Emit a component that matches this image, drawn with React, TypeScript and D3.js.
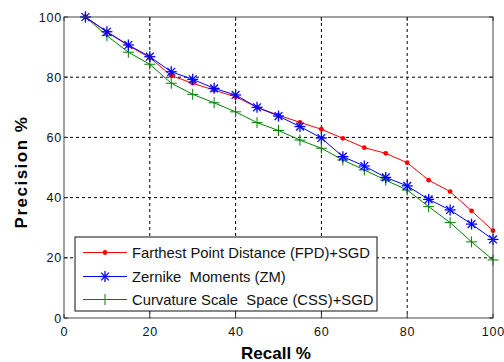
import React, { useEffect, useRef } from 'react';
import * as d3 from 'd3';

const recall = [5, 10, 15, 20, 25, 30, 35, 40, 45, 50, 55, 60, 65, 70, 75, 80, 85, 90, 95, 100];
const fpd = [100, 95, 90.5, 86.5, 80.5, 78, 75.7, 73.5, 70, 67.4, 65, 62.7, 59.7, 56.6, 54.7, 51.6, 45.8, 42, 35.6, 29];
const zm = [100, 95.1, 90.7, 86.8, 81.8, 79.3, 76.3, 74.1, 70, 67.1, 63.6, 59.8, 53.6, 50.5, 46.7, 43.9, 39.4, 35.9, 31.2, 26.1];
const css = [100, 93.8, 88.3, 84.3, 78, 74.3, 71.5, 68.5, 64.9, 62.3, 59.1, 56.4, 52.5, 49.2, 45.8, 42.5, 37, 31.7, 25.3, 19.3];
const ticks = [0, 20, 40, 60, 80, 100];
const seriesNames = [
  'Farthest Point Distance (FPD)+SGD',
  'Zernike  Moments (ZM)',
  'Curvature Scale  Space (CSS)+SGD',
];

const font = '"Liberation Sans", Arial, Helvetica, sans-serif';

// draw a MATLAB-like marker at (cx, cy)
function drawMarker(g: any, kind: string, cx: number, cy: number, color: string) {
  if (kind === 'dot') {
    g.append('circle').attr('cx', cx).attr('cy', cy).attr('r', 2.4).attr('fill', color);
  } else if (kind === 'star') {
    const s = 5.5, d = 3.9;
    const segs = [[-s, 0, s, 0], [0, -s, 0, s], [-d, -d, d, d], [-d, d, d, -d]];
    segs.forEach(p => g.append('line')
      .attr('x1', cx + p[0]).attr('y1', cy + p[1]).attr('x2', cx + p[2]).attr('y2', cy + p[3])
      .attr('stroke', color).attr('stroke-width', 1.3));
  } else {
    const s = 5.5;
    g.append('line').attr('x1', cx - s).attr('y1', cy).attr('x2', cx + s).attr('y2', cy)
      .attr('stroke', color).attr('stroke-width', 1);
    g.append('line').attr('x1', cx).attr('y1', cy - s).attr('x2', cx).attr('y2', cy + s)
      .attr('stroke', color).attr('stroke-width', 1);
  }
}

const App: React.FC = () => {
  const svgRef = useRef<SVGSVGElement>(null);

  useEffect(() => {
    if (!svgRef.current) return;
    const svg = d3.select(svgRef.current);
    svg.selectAll('*').remove();

    const left = 64, right = 493, top = 17, bottom = 318;
    const x = d3.scaleLinear().domain([0, 100]).range([left, right]);
    const y = d3.scaleLinear().domain([0, 100]).range([bottom, top]);

    svg.append('rect').attr('width', 504).attr('height', 362).attr('fill', '#fff');

    // grid
    const grid = svg.append('g');
    ticks.slice(1, -1).forEach(t => {
      grid.append('line').attr('x1', x(t)).attr('x2', x(t)).attr('y1', top).attr('y2', bottom)
        .attr('stroke', '#000').attr('stroke-width', 1).attr('stroke-dasharray', '3,3');
      grid.append('line').attr('y1', y(t)).attr('y2', y(t)).attr('x1', left).attr('x2', right)
        .attr('stroke', '#000').attr('stroke-width', 1).attr('stroke-dasharray', '3,3');
    });

    // series
    const series = [
      { vals: fpd, color: '#ff0000', marker: 'dot' },
      { vals: zm, color: '#0000ff', marker: 'star' },
      { vals: css, color: '#008000', marker: 'plus' },
    ];
    const line = d3.line<[number, number]>().x(d => x(d[0])).y(d => y(d[1]));
    [2, 0, 1].forEach(i => {
      const s = series[i];
      const pts: [number, number][] = recall.map((r, j) => [r, s.vals[j]]);
      svg.append('path').attr('d', line(pts)!).attr('fill', 'none')
        .attr('stroke', s.color).attr('stroke-width', 1);
      const mg = svg.append('g');
      pts.forEach(p => drawMarker(mg, s.marker, x(p[0]), y(p[1]), s.color));
    });

    // axes box and ticks
    svg.append('rect').attr('x', left).attr('y', top).attr('width', right - left).attr('height', bottom - top)
      .attr('fill', 'none').attr('stroke', '#444').attr('stroke-width', 1);
    ticks.forEach(t => {
      svg.append('line').attr('x1', x(t)).attr('x2', x(t)).attr('y1', bottom).attr('y2', bottom - 4).attr('stroke', '#333');
      svg.append('line').attr('x1', x(t)).attr('x2', x(t)).attr('y1', top).attr('y2', top + 4).attr('stroke', '#333');
      svg.append('line').attr('y1', y(t)).attr('y2', y(t)).attr('x1', left).attr('x2', left + 4).attr('stroke', '#333');
      svg.append('line').attr('y1', y(t)).attr('y2', y(t)).attr('x1', right).attr('x2', right - 4).attr('stroke', '#333');
      svg.append('text').attr('x', x(t) + 0.4).attr('y', bottom + 18).attr('text-anchor', 'middle')
        .style('font-family', font).style('font-size', '12.5px').style('letter-spacing', '0.8px')
        .attr('fill', '#111').text(t);
      svg.append('text').attr('x', left - 2).attr('y', y(t) + 4.5).attr('text-anchor', 'end')
        .style('font-family', font).style('font-size', '12.5px').style('letter-spacing', '0.8px')
        .attr('fill', '#111').text(t);
    });

    // axis labels
    svg.append('text').attr('x', 276).attr('y', 359).attr('text-anchor', 'middle')
      .style('font-family', font).style('font-size', '17px').style('font-weight', 'bold').text('Recall %');
    svg.append('text').attr('transform', `translate(27, 172) rotate(-90)`)
      .attr('text-anchor', 'middle')
      .style('font-family', font).style('font-size', '17px').style('font-weight', 'bold')
      .style('letter-spacing', '1.5px').text('Precision %');

    // legend
    const lg = svg.append('g');
    lg.append('rect').attr('x', 75).attr('y', 237).attr('width', 302).attr('height', 74)
      .attr('fill', '#fff').attr('stroke', '#111').attr('stroke-width', 1);
    const rowY = [252.5, 276.5, 299.5];
    series.forEach((s, i) => {
      lg.append('line').attr('x1', 83).attr('x2', 127).attr('y1', rowY[i]).attr('y2', rowY[i])
        .attr('stroke', s.color).attr('stroke-width', 1);
      drawMarker(lg, s.marker, 105, rowY[i], s.color);
      lg.append('text').attr('x', 132).attr('y', rowY[i] + 5)
        .style('font-family', font).style('font-size', '14.8px').style('white-space', 'pre')
        .attr('fill', '#111').text(seriesNames[i]);
    });
  }, []);

  return (
    <svg ref={svgRef} width={504} height={362}
      style={{ position: 'absolute', left: 0, top: 0, display: 'block' }} />
  );
};

export default App;
